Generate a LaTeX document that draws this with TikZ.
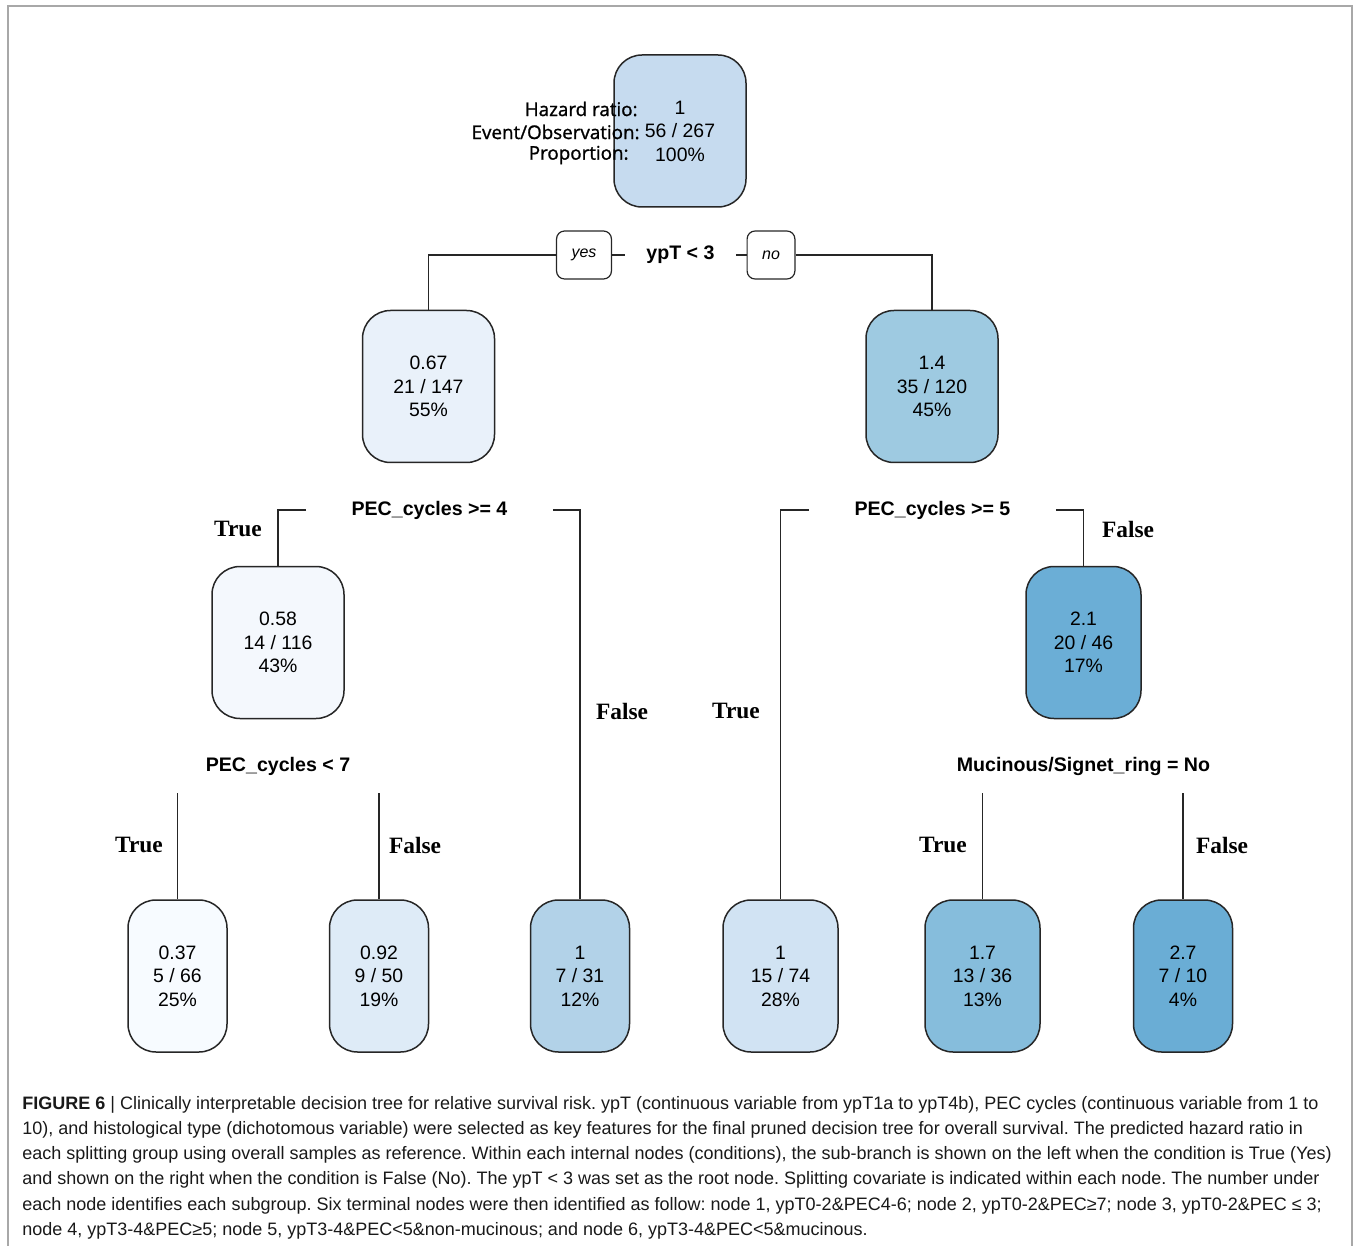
\documentclass[tikz,border=0pt]{standalone}
\usepackage{fontspec}
\setmainfont{Liberation Sans}
\newfontfamily\timesfont{Liberation Serif}
\newfontfamily\keyfont{Open Sans}[FakeBold=1.2]
\frenchspacing

\definecolor{hrroot}{HTML}{C6DBEF}
\definecolor{hrleft}{HTML}{E9F1FA}
\definecolor{hrright}{HTML}{9ECAE1}
\definecolor{hrll}{HTML}{F4F8FD}
\definecolor{hrrr}{HTML}{6BAED6}
\definecolor{hrlll}{HTML}{F7FBFF}
\definecolor{hrllr}{HTML}{DEEBF7}
\definecolor{hrlr}{HTML}{B2D2E8}
\definecolor{hrrl}{HTML}{D1E3F3}
\definecolor{hrrrl}{HTML}{86BDDC}
\definecolor{hrrrr}{HTML}{6AADD5}
\definecolor{framegray}{HTML}{A8A8A8}

\begin{document}
\begin{tikzpicture}[x=0.5pt, y=-0.5pt,
    leaf/.style={draw=black!85, line width=0.75pt, rounded corners=14pt,
        minimum height=76pt, align=center, inner sep=0pt,
        font=\fontsize{9.7}{11.75}\selectfont},
    wide/.style={minimum width=66pt},
    mid/.style={minimum width=57.5pt},
    narrow/.style={minimum width=49.5pt},
    split/.style={font=\bfseries\fontsize{9.8}{12}\selectfont, inner xsep=22.5pt, inner ysep=0pt},
    branch/.style={font=\timesfont\bfseries\fontsize{11.7}{14}\selectfont},
    tag/.style={draw=black!85, line width=0.6pt, rounded corners=4pt, minimum height=24pt,
        inner xsep=7.5pt, font=\itshape\fontsize{8}{10}\selectfont},
    key/.style={font=\keyfont\fontsize{9.4}{11}\selectfont, inner sep=0pt},
    link/.style={line width=0.75pt, black!85},
    caption/.style={font=\fontsize{9}{11}\selectfont, inner sep=0pt, color=black!90}]

    \useasboundingbox (0,0) rectangle (1356,1246);
    \draw[framegray, line width=1pt] (8,1246) -- (8,6) -- (1352,6) -- (1352,1246);

    % tree nodes
    \node[leaf, wide, fill=hrroot] (root) at (680,131) {1\\56 / 267\\100\%};
    \node[leaf, wide, fill=hrleft] (left) at (428.5,386.5) {0.67\\21 / 147\\55\%};
    \node[leaf, wide, fill=hrright] (right) at (932,386.5) {1.4\\35 / 120\\45\%};
    \node[leaf, wide, fill=hrll] (ll) at (278,642.5) {0.58\\14 / 116\\43\%};
    \node[leaf, mid, fill=hrrr] (rr) at (1083.5,642.5) {2.1\\20 / 46\\17\%};
    \node[leaf, narrow, fill=hrlll] (lll) at (177.5,976) {0.37\\5 / 66\\25\%};
    \node[leaf, narrow, fill=hrllr] (llr) at (379,976) {0.92\\9 / 50\\19\%};
    \node[leaf, narrow, fill=hrlr] (lr) at (580,976) {1\\7 / 31\\12\%};
    \node[leaf, mid, fill=hrrl] (rl) at (780.5,976) {1\\15 / 74\\28\%};
    \node[leaf, mid, fill=hrrrl] (rrl) at (982.5,976) {1.7\\13 / 36\\13\%};
    \node[leaf, narrow, fill=hrrrr] (rrr) at (1183,976) {2.7\\7 / 10\\4\%};

    % key beside the root
    \node[key, anchor=east] (khr) at (638,109) {Hazard ratio:};
    \node[key, anchor=east] (kev) at (640,132) {Event/Observation:};
    \node[key, anchor=east] (kpr) at (629,155) {Proportion:};

    % splits
    \node[split, inner xsep=10.5pt] (s1) at (680.5,255) {ypT < 3};
    \node[tag] (yes) at (584,255) {yes};
    \node[tag] (no) at (771,255) {no};
    \node[split] (s2) at (429.5,510) {PEC\_cycles >= 4};
    \node[split] (s3) at (932.5,510) {PEC\_cycles >= 5};
    \node[split, minimum height=27pt] (s4) at (278,766) {PEC\_cycles < 7};
    \node[split, minimum height=27pt] (s5) at (1083.5,766) {Mucinous/Signet\_ring = No};

    \draw[link] (yes.west) -| (left.north);
    \draw[link] (yes.east) -- (s1.west);
    \draw[link] (s1.east) -- (no.west);
    \draw[link] (no.east) -| (right.north);
    \draw[link] (s2.west) -| (ll.north);
    \draw[link] (s2.east) -| (lr.north);
    \draw[link] (s3.west) -| (rl.north);
    \draw[link] (s3.east) -| (rr.north);
    \draw[link] (s4.south -| lll.north) -- (lll.north);
    \draw[link] (s4.south -| llr.north) -- (llr.north);
    \draw[link] (s5.south -| rrl.north) -- (rrl.north);
    \draw[link] (s5.south -| rrr.north) -- (rrr.north);

    % branch labels
    \node[branch] (t2) at (238,529) {True};
    \node[branch] (f2) at (622,711) {False};
    \node[branch] (t3) at (736,711) {True};
    \node[branch] (f3) at (1128,529) {False};
    \node[branch] (t4) at (139,845) {True};
    \node[branch] (f4) at (415,845) {False};
    \node[branch] (t5) at (943,845) {True};
    \node[branch] (f5) at (1222,845) {False};

    % caption
    \node[caption, anchor=base west] (cap1) at (22,1109) {\textbf{FIGURE 6} | Clinically interpretable decision tree for relative survival risk. ypT (continuous variable from ypT1a to ypT4b), PEC cycles (continuous variable from 1 to};
    \node[caption, anchor=base west] (cap2) at (22,1134) {10), and histological type (dichotomous variable) were selected as key features for the final pruned decision tree for overall survival. The predicted hazard ratio in};
    \node[caption, anchor=base west] (cap3) at (22,1159) {each splitting group using overall samples as reference. Within each internal nodes (conditions), the sub-branch is shown on the left when the condition is True (Yes)};
    \node[caption, anchor=base west] (cap4) at (22,1184) {and shown on the right when the condition is False (No). The ypT < 3 was set as the root node. Splitting covariate is indicated within each node. The number under};
    \node[caption, anchor=base west] (cap5) at (22,1210) {each node identifies each subgroup. Six terminal nodes were then identified as follow: node 1, ypT0-2\&PEC4-6; node 2, ypT0-2\&PEC≥7; node 3, ypT0-2\&PEC ≤ 3;};
    \node[caption, anchor=base west] (cap6) at (22,1235) {node 4, ypT3-4\&PEC≥5; node 5, ypT3-4\&PEC<5\&non-mucinous; and node 6, ypT3-4\&PEC<5\&mucinous.};
\end{tikzpicture}
\end{document}
